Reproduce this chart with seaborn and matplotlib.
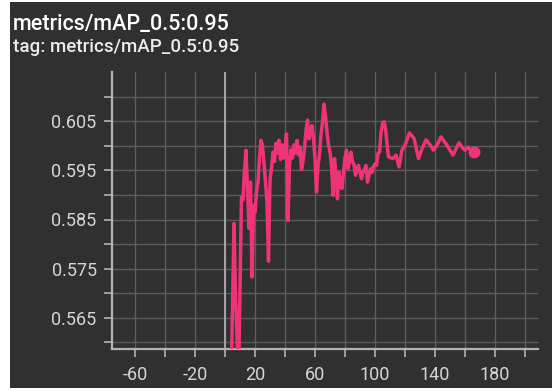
import matplotlib
matplotlib.use("Agg")
import matplotlib.pyplot as plt
import pandas as pd
import seaborn as sns
from matplotlib.patches import Rectangle

# mAP@0.5:0.95 per training epoch
epochs = [4, 6, 7, 9, 11, 12, 13, 14, 15, 16, 17, 18, 19, 20, 21, 22, 23, 24, 25,
          26, 27, 28, 29, 30, 31, 32, 33, 34, 35, 36, 37, 38, 39, 40, 41, 42, 43,
          44, 45, 46, 47, 48, 49, 50, 51, 52, 53, 54, 55, 56, 57, 58, 59, 60, 61,
          62, 63, 64, 65, 66, 67, 68, 69, 70, 71, 72, 73, 74, 75, 76, 77, 78, 79,
          80, 81, 82, 83, 84, 85, 86, 87, 88, 89, 90, 91, 92, 93, 94, 95, 96, 97,
          98, 99, 100, 101, 102, 103, 104, 105, 106, 107, 108, 109, 110, 112, 114,
          116, 118, 120, 123, 126, 129, 131, 134, 137, 139, 142, 144, 148, 152,
          156, 158, 160, 162, 164, 166]
map_values = [0.5500, 0.5842, 0.5700, 0.5520, 0.5895, 0.5890, 0.5950, 0.5991,
              0.5913, 0.5832, 0.5926, 0.5733, 0.5879, 0.5865, 0.5906, 0.5926,
              0.5975, 0.6011, 0.6000, 0.5965, 0.5926, 0.5885, 0.5765, 0.5930,
              0.5955, 0.5987, 0.5968, 0.6005, 0.5985, 0.6011, 0.5972, 0.6002,
              0.5975, 0.5995, 0.6024, 0.5848, 0.5960, 0.5992, 0.5975, 0.6002,
              0.5985, 0.6011, 0.5982, 0.5998, 0.5952, 0.5968, 0.5994, 0.6030,
              0.6052, 0.6014, 0.6030, 0.6041, 0.6014, 0.5974, 0.5906, 0.5958,
              0.5982, 0.6022, 0.6048, 0.6085, 0.6062, 0.6028, 0.6002, 0.5987,
              0.5962, 0.5899, 0.5974, 0.5940, 0.5892, 0.5946, 0.5919, 0.5913,
              0.5946, 0.5975, 0.5991, 0.5953, 0.5967, 0.5987, 0.5968, 0.5962,
              0.5940, 0.5953, 0.5960, 0.5946, 0.5933, 0.5946, 0.5952, 0.5960,
              0.5926, 0.5940, 0.5953, 0.5946, 0.5958, 0.5963, 0.5960, 0.5984,
              0.5987, 0.6025, 0.6046, 0.6049, 0.6035, 0.6005, 0.5978, 0.5976,
              0.5974, 0.5981, 0.5957, 0.5991, 0.6001, 0.6026, 0.6015, 0.5974,
              0.5991, 0.6012, 0.6001, 0.5991, 0.6005, 0.6018, 0.6001, 0.5981,
              0.6006, 0.5997, 0.5991, 0.5997, 0.5990, 0.5988]

title_text = "metrics/mAP_0.5:0.95"
subtitle_text = "tag: metrics/mAP_0.5:0.95"
x_major = [-60, -20, 20, 60, 100, 140, 180]
x_minor = [-40, 0, 40, 80, 120, 160, 200]
y_major = [0.565, 0.575, 0.585, 0.595, 0.605]
y_minor = [0.56, 0.57, 0.58, 0.59, 0.60, 0.61]

sns.set_theme(style="dark")
plt.rcParams["font.family"] = ["Roboto", "DejaVu Sans"]

BG = "#303030"
LINE = "#ee3377"
AXIS = "#b3b3b3"
GRID = "#5c5c5c"
TEXT = "#d6d6d6"

W, H = 552, 390
fig = plt.figure(figsize=(W / 100, H / 100), dpi=100, facecolor="white")
fig.patches.append(Rectangle((10 / W, 2 / H), (W - 10) / W, (H - 4) / H,
                             transform=fig.transFigure, facecolor=BG,
                             edgecolor="none", zorder=-10))

ax = fig.add_axes([112 / W, (H - 349.3) / H, (538 - 112) / W, (349.3 - 72) / H])
ax.set_facecolor(BG)
ax.set_axisbelow(True)

df = pd.DataFrame({"epoch": epochs, "value": map_values})
sns.lineplot(data=df, x="epoch", y="value", ax=ax, color=LINE,
             linewidth=2.5, zorder=3)
ax.plot(epochs[-1], map_values[-1], "o", color=LINE, markersize=8.6,
        markeredgewidth=0, zorder=4)
ax.axvline(0, color="#a6a6a6", linewidth=1.4, zorder=2)

ax.set_xlim(-75.33, 208.67)
ax.set_ylim(0.5586, 0.6150)

ax.set_xticks(x_major)
ax.set_xticklabels([str(v) for v in x_major])
ax.set_xticks(x_minor, minor=True)
ax.set_yticks(y_major)
ax.set_yticklabels([f"{v:.3f}" for v in y_major])
ax.set_yticks(y_minor, minor=True)

ax.tick_params(which="both", direction="out", length=6, width=1.2,
               color=AXIS, labelsize=13, labelcolor=TEXT,
               bottom=True, left=True)
ax.tick_params(axis="x", which="both", pad=6)
ax.tick_params(axis="y", which="both", pad=5)

ax.grid(which="both", color=GRID, linewidth=1.0)

for side in ("top", "right"):
    ax.spines[side].set_visible(False)
for side in ("left", "bottom"):
    ax.spines[side].set_visible(True)
    ax.spines[side].set_color(AXIS)
    ax.spines[side].set_linewidth(1.6)

ax.set_xlabel("")
ax.set_ylabel("")

fig.text(13 / W, 1 - 30 / H, title_text, fontsize=15.5, fontweight="medium",
         color="white", va="baseline", ha="left")
fig.text(13 / W, 1 - 52.5 / H, subtitle_text, fontsize=13.5,
         fontweight="medium", color="#ececec", va="baseline", ha="left")

fig.savefig("out.png", dpi=100, facecolor=fig.get_facecolor())
